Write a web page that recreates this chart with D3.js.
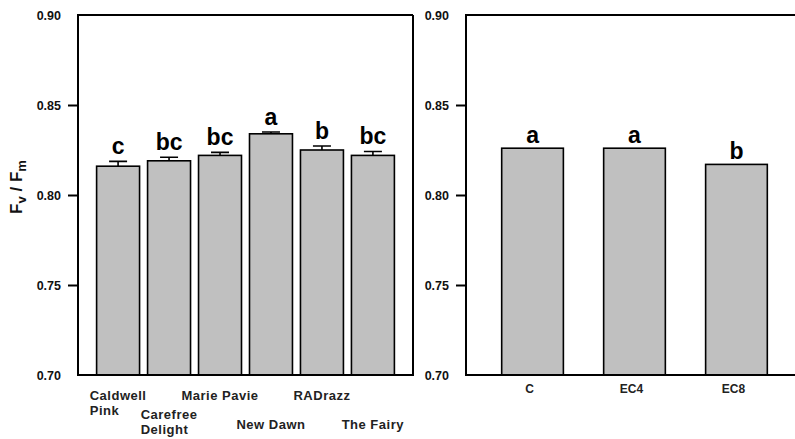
<!DOCTYPE html>
<html>
<head>
<meta charset="utf-8">
<script src="https://cdn.jsdelivr.net/npm/d3@7"></script>
<style>
  html, body { margin: 0; padding: 0; background: #fff; }
  svg { display: block; }
  text { font-family: Arial, "Liberation Sans", sans-serif; font-weight: bold; }
</style>
</head>
<body>
<svg id="chart" width="795" height="439"></svg>
<script>
// Cultivar panel (left)
const cultivars = ["Caldwell Pink", "Carefree Delight", "Marie Pavie", "New Dawn", "RADrazz", "The Fairy"];
const cultivarLines = [["Caldwell", "Pink"], ["Carefree", "Delight"], ["Marie Pavie"], ["New Dawn"], ["RADrazz"], ["The Fairy"]];
const cultivarMeans = [0.816, 0.819, 0.822, 0.834, 0.825, 0.822];
const cultivarErrors = [0.0027, 0.0020, 0.0017, 0.0010, 0.0022, 0.0022];
const cultivarLetters = ["c", "bc", "bc", "a", "b", "bc"];

// Treatment panel (right)
const treatments = ["C", "EC4", "EC8"];
const treatmentMeans = [0.826, 0.826, 0.817];
const treatmentLetters = ["a", "a", "b"];

// Shared y axis
const yTicks = [0.70, 0.75, 0.80, 0.85, 0.90];
const yDomain = [0.70, 0.90];

const svg = d3.select("#chart");
const plotTop = 15, plotBottom = 375;
const y = d3.scaleLinear().domain(yDomain).range([plotBottom, plotTop]);
const barFill = "#c0c0c0";

function drawYAxis(g, x0) {
  const axis = d3.axisLeft(y)
    .tickValues(yTicks)
    .tickFormat(d3.format(".2f"))
    .tickSize(10)
    .tickPadding(7);
  const ax = g.append("g").attr("transform", `translate(${x0},0)`).call(axis);
  ax.select(".domain").remove();
  ax.selectAll(".tick line")
    .attr("stroke", "#000").attr("stroke-width", 2)
    .attr("display", d => (d === yDomain[0] || d === yDomain[1]) ? "none" : null);
  ax.selectAll(".tick text")
    .attr("fill", "#111")
    .style("font-size", "12.5px")
    .style("font-family", "Arial, 'Liberation Sans', sans-serif")
    .style("font-weight", "bold");
}

function drawFrame(g, x0, x1) {
  g.append("path")
    .attr("d", `M${x1},${plotTop}H${x0}V${plotBottom}H${x1}` + (x1 < 795 ? `V${plotTop}` : ""))
    .attr("fill", "none").attr("stroke", "#000").attr("stroke-width", 2);
}

// ---- Left panel ----
const left = svg.append("g");
const xL = d3.scaleBand().domain(cultivars).range([78, 413]).paddingInner(0.157).paddingOuter(0.365);

left.selectAll("rect.bar").data(cultivars).join("rect")
  .attr("class", "bar")
  .attr("x", d => xL(d))
  .attr("width", xL.bandwidth())
  .attr("y", (d, i) => y(cultivarMeans[i]))
  .attr("height", (d, i) => plotBottom - y(cultivarMeans[i]))
  .attr("fill", barFill).attr("stroke", "#000").attr("stroke-width", 1.6);

// upper error bars
const capW = 18;
left.selectAll("path.err").data(cultivars).join("path")
  .attr("class", "err")
  .attr("d", (d, i) => {
    const cx = xL(d) + xL.bandwidth() / 2;
    const y0 = y(cultivarMeans[i]);
    const y1 = y(cultivarMeans[i] + cultivarErrors[i]);
    return `M${cx},${y0}V${y1}M${cx - capW / 2},${y1}H${cx + capW / 2}`;
  })
  .attr("fill", "none").attr("stroke", "#000").attr("stroke-width", 1.6);

left.selectAll("text.letter").data(cultivars).join("text")
  .attr("class", "letter")
  .attr("x", d => xL(d) + xL.bandwidth() / 2)
  .attr("y", (d, i) => y(cultivarMeans[i] + cultivarErrors[i]) - 7)
  .attr("text-anchor", "middle")
  .style("font-size", "23px")
  .attr("fill", "#000")
  .text((d, i) => cultivarLetters[i]);

drawFrame(left, 78, 413);
drawYAxis(left, 78);

// staggered category labels, lines left-aligned, block centred under the bar
const rowBase = [400, 419];
cultivars.forEach((c, i) => {
  const lines = cultivarLines[i];
  const row = i % 2;
  const base = rowBase[row] + (row === 1 && lines.length === 1 ? 10 : 0);
  const t = left.append("text")
    .attr("fill", "#222")
    .style("font-size", "13px")
    .style("letter-spacing", "0.5px");
  lines.forEach((ln, k) => {
    t.append("tspan").attr("x", 0).attr("y", base + k * 15).text(ln);
  });
  const w = t.node().getBBox().width;
  const cx = xL(c) + xL.bandwidth() / 2;
  t.attr("transform", `translate(${cx - w / 2},0)`);
});

// y-axis title  Fv / Fm
const title = svg.append("text")
  .attr("transform", "translate(22,187) rotate(-90)")
  .attr("text-anchor", "middle")
  .attr("fill", "#111")
  .style("font-size", "17px");
title.append("tspan").text("F");
title.append("tspan").attr("dy", 4).style("font-size", "13px").text("v");
title.append("tspan").attr("dy", -4).text(" / F");
title.append("tspan").attr("dy", 4).style("font-size", "13px").text("m");

// ---- Right panel ----
const right = svg.append("g");
const xR = d3.scaleBand().domain(treatments).range([466, 803]).paddingInner(0.395).paddingOuter(0.35);

right.selectAll("rect.bar").data(treatments).join("rect")
  .attr("class", "bar")
  .attr("x", d => xR(d))
  .attr("width", xR.bandwidth())
  .attr("y", (d, i) => y(treatmentMeans[i]))
  .attr("height", (d, i) => plotBottom - y(treatmentMeans[i]))
  .attr("fill", barFill).attr("stroke", "#000").attr("stroke-width", 1.6);

right.selectAll("text.letter").data(treatments).join("text")
  .attr("class", "letter")
  .attr("x", d => xR(d) + xR.bandwidth() / 2)
  .attr("y", (d, i) => y(treatmentMeans[i]) - 5)
  .attr("text-anchor", "middle")
  .style("font-size", "23px")
  .attr("fill", "#000")
  .text((d, i) => treatmentLetters[i]);

right.selectAll("text.cat").data(treatments).join("text")
  .attr("class", "cat")
  .attr("x", d => xR(d) + xR.bandwidth() / 2 - 3)
  .attr("y", 393)
  .attr("text-anchor", "middle")
  .attr("fill", "#222")
  .style("font-size", "12px")
  .text(d => d);

drawFrame(right, 466, 803);
drawYAxis(right, 466);
</script>
</body>
</html>
